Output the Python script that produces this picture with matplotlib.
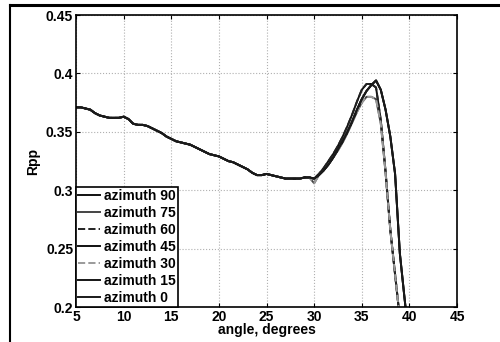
import matplotlib.pyplot as plt
from matplotlib.lines import Line2D

plt.rcParams['font.family'] = ['Liberation Sans', 'DejaVu Sans']
plt.rcParams['font.weight'] = 'bold'

# shared part of the curves, 5..30 degrees in 0.5 steps
base_angles = [5, 5.5, 6, 6.5, 7, 7.5, 8, 8.5, 9, 9.5, 10, 10.5, 11, 11.5, 12, 12.5,
               13, 13.5, 14, 14.5, 15, 15.5, 16, 16.5, 17, 17.5, 18, 18.5, 19, 19.5,
               20, 20.5, 21, 21.5, 22, 22.5, 23, 23.5, 24, 24.5, 25, 25.5, 26, 26.5,
               27, 27.5, 28, 28.5, 29, 29.5]
base_rpp = [0.371, 0.371, 0.370, 0.369, 0.366, 0.364, 0.363, 0.362, 0.362, 0.362,
            0.363, 0.361, 0.357, 0.356, 0.356, 0.355, 0.353, 0.351, 0.349, 0.346,
            0.344, 0.342, 0.341, 0.340, 0.339, 0.337, 0.335, 0.333, 0.331, 0.330,
            0.329, 0.327, 0.325, 0.324, 0.322, 0.320, 0.318, 0.315, 0.313, 0.313,
            0.314, 0.313, 0.312, 0.311, 0.310, 0.310, 0.310, 0.310, 0.311, 0.311]

tail_angles = [30, 30.5, 31, 31.5, 32, 32.5, 33, 33.5, 34, 34.5, 35, 35.5, 36, 36.5,
               37, 37.5, 38, 38.5, 39, 39.5, 40]
# early peak, early drop
tail_early = [0.310, 0.314, 0.319, 0.325, 0.331, 0.338, 0.346, 0.355, 0.365, 0.376,
              0.386, 0.391, 0.391, 0.388, 0.360, 0.316, 0.266, 0.228, 0.190, 0.150, 0.120]
# lower (gray) peak, early drop
tail_low = [0.306, 0.313, 0.317, 0.322, 0.328, 0.334, 0.341, 0.349, 0.358, 0.367,
            0.375, 0.380, 0.380, 0.378, 0.357, 0.315, 0.266, 0.228, 0.190, 0.150, 0.120]
# late peak, late drop
tail_late = [0.310, 0.313, 0.317, 0.322, 0.328, 0.335, 0.342, 0.350, 0.359, 0.369,
             0.378, 0.385, 0.390, 0.394, 0.386, 0.369, 0.346, 0.314, 0.246, 0.207, 0.170]

labels = ['azimuth 90', 'azimuth 75', 'azimuth 60', 'azimuth 45',
          'azimuth 30', 'azimuth 15', 'azimuth 0']
tails = [tail_early, tail_low, tail_early, tail_late, tail_low, tail_late, tail_late]
colors = ['#111111', '#444444', '#222222', '#111111', '#9a9a9a', '#151515', '#1a1a1a']
styles = ['-', '-', '--', '-', '--', '-', '-']

fig = plt.figure(figsize=(5, 3.42), dpi=100)
ax = fig.add_axes([0.152, 0.102, 0.762, 0.854])

x = base_angles + tail_angles
for lab, tail, c, ls in zip(labels, tails, colors, styles):
    ax.plot(x, base_rpp + tail, color=c, linestyle=ls, linewidth=1.4, label=lab)

ax.set_xlim(5, 45)
ax.set_ylim(0.2, 0.45)
ax.set_xticks([5, 10, 15, 20, 25, 30, 35, 40, 45])
ax.set_yticks([0.2, 0.25, 0.3, 0.35, 0.4, 0.45])
ax.set_yticklabels(['0.2', '0.25', '0.3', '0.35', '0.4', '0.45'])
ax.grid(True, linestyle=':', color='#b0b0b0', linewidth=0.8)
ax.tick_params(direction='in', top=True, right=True, labelsize=10, length=3, pad=2)
for sp in ax.spines.values():
    sp.set_linewidth(1.2)
ax.set_xlabel('angle, degrees', fontsize=10, fontweight='bold', labelpad=-1)
ax.set_ylabel('Rpp', fontsize=10, fontweight='bold', labelpad=4)

leg = ax.legend(loc='lower left', fontsize=10, handlelength=1.6, handletextpad=0.3,
                borderpad=0.15, labelspacing=0.22, borderaxespad=0, fancybox=False,
                framealpha=1)
leg.get_frame().set_edgecolor('black')
leg.get_frame().set_linewidth(1.2)
for t in leg.get_texts():
    t.set_fontweight('bold')

# scanned page frame
fig.add_artist(Line2D([0.02, 1.0], [0.985, 0.985], color='black', linewidth=2.2))
fig.add_artist(Line2D([0.02, 0.02], [0.0, 0.985], color='black', linewidth=1.5))

fig.savefig('out.png', dpi=100)
